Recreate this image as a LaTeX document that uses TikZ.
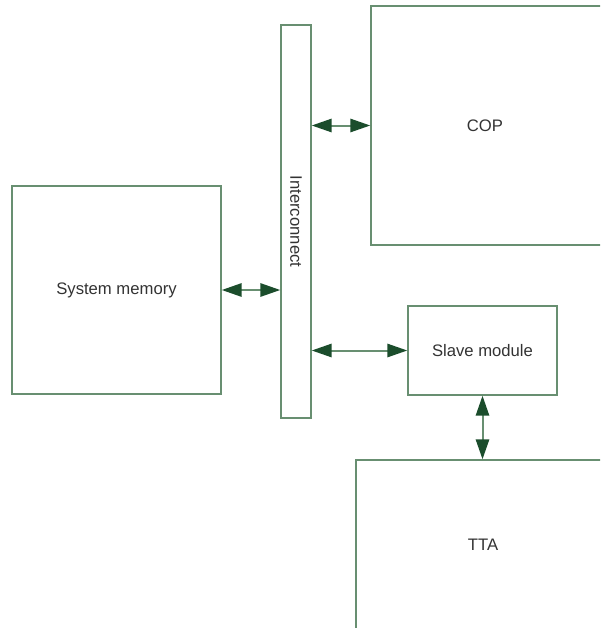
\documentclass[tikz,border=0pt]{standalone}
\usepackage{fontspec}
\setmainfont{Liberation Sans}
\usetikzlibrary{arrows.meta}
\definecolor{boxline}{RGB}{104,143,113}
\definecolor{arrowgreen}{RGB}{27,77,44}
\definecolor{labelgray}{RGB}{51,51,51}
\begin{document}
\begin{tikzpicture}[x=0.75pt,y=-0.75pt,
  block/.style={rectangle,inner sep=0pt,text=labelgray,font=\fontsize{12.5}{15}\selectfont},
  box/.style={block,draw=boxline,line width=1.1pt},
  link/.style={draw=boxline,line width=1.5pt,
    {Triangle[length=15pt,width=10pt,color=arrowgreen]}-{Triangle[length=15pt,width=10pt,color=arrowgreen]}}]
\useasboundingbox (0,0) rectangle (600,628);
\clip (0,0) rectangle (600,628);

\coordinate (m) at (116.5,290);
\coordinate (i) at (296,221.5);
\coordinate (c) at (495.5,125.5);
\coordinate (s) at (482.5,350.5);
\coordinate (t) at (488,545);

\node[box,minimum width=156.75pt,minimum height=156pt] (mem) at (m) {System memory};
\node[box,minimum width=22.5pt,minimum height=294.75pt,
  label={[rotate=-90,block]center:Interconnect}] (ic) at (i) {};
\node[box,minimum width=186.75pt,minimum height=179.25pt,
  label={[block,xshift=-7.875pt]center:COP}] (cop) at (c) {};
\node[box,minimum width=111.75pt,minimum height=66.75pt] (slave) at (s) {Slave module};
\node[box,minimum width=198pt,minimum height=127.5pt,
  label={[block,xshift=-3.75pt]center:TTA}] (tta) at (t) {};

\draw[link] (mem.east) -- (mem.east -| ic.west);
\draw[link] (cop.west -| ic.east) -- (cop.west);
\draw[link] (slave.west -| ic.east) -- (slave.west);
\draw[link] (slave.south) -- (slave.south |- tta.north);
\end{tikzpicture}
\end{document}
